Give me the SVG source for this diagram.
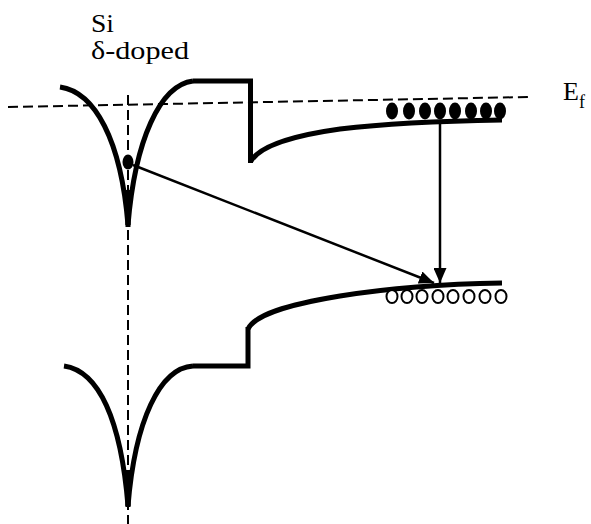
<svg xmlns="http://www.w3.org/2000/svg" width="591" height="524" viewBox="0 0 591 524">
<style>
.band{fill:none;stroke:#000;stroke-width:5;stroke-linejoin:miter;stroke-linecap:butt}
.dash{fill:none;stroke:#000;stroke-width:2;stroke-dasharray:10 5}
.arr{fill:none;stroke:#000;stroke-width:2.5}
.e{fill:#000}
.h{fill:#fff;stroke:#000;stroke-width:2}
</style>
<defs>
<marker id="ah" viewBox="0 0 15 13" refX="15" refY="6.5" markerWidth="15" markerHeight="13" markerUnits="userSpaceOnUse" orient="auto">
<path d="M0,0 L15,6.5 L0,13 Z" fill="#000"/>
</marker>
</defs>
<rect width="591" height="524" fill="#fff"/>
<g id="labels" fill="#000">
<text x="91" y="32" font-size="25" font-family="'Liberation Serif', serif" textLength="23" lengthAdjust="spacingAndGlyphs">Si</text>
<text x="91" y="59" font-size="25" font-family="'Liberation Serif', serif" textLength="98" lengthAdjust="spacingAndGlyphs">δ-doped</text>
<text x="563" y="100" font-size="26" font-family="'Liberation Serif', serif">E<tspan font-size="18" dy="8">f</tspan></text>
</g>
<g id="fermi-level">
<line class="dash" x1="8" y1="107" x2="528" y2="97"/>
<line class="dash" x1="128" y1="95" x2="128" y2="524"/>
</g>
<g id="conduction-band">
<path class="band" d="M60,87 C95,92 121,140 128,225"/>
<path class="band" d="M128,225 C135,140 160,85 193,81"/>
<path class="band" d="M128,190 L128,227" stroke-width="7"/>
<path class="band" d="M193,81 L250.5,81 L250.5,163"/>
<path class="band" d="M251,161 C260,146 290,136 340,129 C390,123 440,121 502,120"/>
</g>
<g id="valence-band">
<path class="band" d="M64,366 C99,371 121,420 128,506"/>
<path class="band" d="M128,506 C135,420 160,368 193,366"/>
<path class="band" d="M128,470 L128,507" stroke-width="7"/>
<path class="band" d="M193,366 L248,366 L248,327"/>
<path class="band" d="M248,329 C255,315 285,305 340,296 C390,288 440,284 502,283"/>
</g>
<g id="electrons">
<ellipse class="e" cx="128" cy="162" rx="5.5" ry="7.5"/>
<ellipse class="e" cx="392" cy="111" rx="6" ry="8.5"/>
<ellipse class="e" cx="409" cy="111" rx="6" ry="8.5"/>
<ellipse class="e" cx="425" cy="111" rx="6" ry="8.5"/>
<ellipse class="e" cx="440" cy="111" rx="6" ry="8.5"/>
<ellipse class="e" cx="455" cy="111" rx="6" ry="8.5"/>
<ellipse class="e" cx="471" cy="111" rx="6" ry="8.5"/>
<ellipse class="e" cx="486" cy="111" rx="6" ry="8.5"/>
<ellipse class="e" cx="500" cy="111" rx="6" ry="8.5"/>
</g>
<g id="holes">
<ellipse class="h" cx="392" cy="296.5" rx="5.5" ry="6.5"/>
<ellipse class="h" cx="407" cy="296.5" rx="5.5" ry="6.5"/>
<ellipse class="h" cx="422" cy="296.5" rx="5.5" ry="6.5"/>
<ellipse class="h" cx="438" cy="296.5" rx="5.5" ry="6.5"/>
<ellipse class="h" cx="453" cy="296.5" rx="5.5" ry="6.5"/>
<ellipse class="h" cx="469" cy="296.5" rx="5.5" ry="6.5"/>
<ellipse class="h" cx="485" cy="296.5" rx="5.5" ry="6.5"/>
<ellipse class="h" cx="501" cy="296.5" rx="5.5" ry="6.5"/>
</g>
<g id="connectors">
<line class="arr" x1="133" y1="165" x2="434" y2="283" marker-end="url(#ah)"/>
<line class="arr" x1="440" y1="121" x2="440" y2="283" marker-end="url(#ah)"/>
</g>
</svg>
